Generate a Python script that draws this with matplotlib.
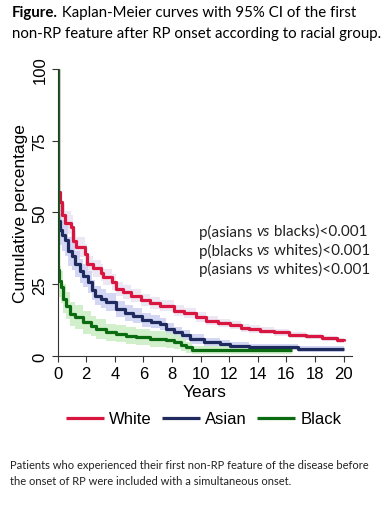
import matplotlib
matplotlib.use('Agg')
import matplotlib.pyplot as plt

# step-function Kaplan-Meier estimates (percent)
white_t = [0, 0.02, 0.15, 0.3, 0.5, 0.9, 1.1, 1.25, 1.9, 2.05, 2.5, 3.0, 3.2, 3.8, 4.1, 4.6, 5.1, 5.8,
           6.45, 7.15, 8.1, 8.8, 9.7, 10.4, 11.2, 12.05, 12.8, 13.4, 14.15, 15.1, 16.2, 17.4, 18.5, 19.5, 20]
white_y = [100, 57, 53.5, 49, 46.5, 45, 40, 38, 35.5, 32, 30.5, 29, 27.4, 25.7, 23.3, 22.3, 21, 19.5,
           18.5, 17.5, 15.8, 15, 13.5, 12.3, 11.5, 10.8, 9.8, 9.4, 8.8, 8.2, 7.4, 6.8, 6.1, 5.5, 5.3]
white_lo = [100, 52, 49, 45, 42.5, 41, 36.5, 34.5, 32, 29, 27.5, 26, 24.6, 23, 20.8, 19.9, 18.7, 17.3,
            16.4, 15.5, 13.9, 13.2, 11.8, 10.7, 10, 9.4, 8.5, 8.1, 7.6, 7, 6.3, 5.8, 5.1, 4.6, 4.4]
white_hi = [100, 60, 57, 53, 50.5, 49, 43.5, 41.5, 39, 35, 33.5, 32, 30.2, 28.4, 25.8, 24.7, 23.3, 21.7,
            20.6, 19.5, 17.7, 16.8, 15.2, 13.9, 13, 12.2, 11.1, 10.7, 10, 9.4, 8.5, 7.8, 7.1, 6.4, 6.2]

asian_t = [0, 0.02, 0.15, 0.3, 0.5, 0.7, 1.0, 1.2, 1.55, 1.8, 2.15, 2.4, 2.6, 3.0, 3.4, 4.1, 4.7, 5.3,
           5.9, 6.5, 7.15, 7.6, 8.1, 8.7, 9.25, 10.2, 11.35, 12.05, 13.4, 16.8, 20]
asian_y = [100, 47, 44, 42, 40.5, 36.5, 35, 32, 29.5, 28, 25.7, 23, 21, 20, 18.7, 16.4, 15, 14,
           12.5, 12, 11.1, 9.4, 8.2, 7.2, 5.9, 4.8, 4.2, 3.6, 3.1, 2.4, 2.4]
asian_lo = [100, 41, 38.5, 36.5, 35, 31.5, 30, 27.5, 25.3, 24, 21.8, 19.4, 17.6, 16.7, 15.5, 13.5, 12.3, 11.4,
            10.1, 9.7, 8.9, 7.4, 6.3, 5.5, 4.3, 3.4, 2.9, 2.4, 2, 1.4, 1.4]
asian_hi = [100, 53, 49.5, 47.5, 46, 41.5, 40, 36.5, 33.7, 32, 29.6, 26.6, 24.4, 23.3, 21.9, 19.3, 17.7, 16.6,
            14.9, 14.3, 13.3, 11.4, 10.1, 8.9, 7.5, 6.2, 5.5, 4.8, 4.2, 3.4, 3.4]

black_t = [0, 0.02, 0.1, 0.2, 0.4, 0.6, 0.85, 1.2, 1.8, 2.3, 2.7, 3.4, 4.1, 4.8, 5.5, 6.45, 7.6, 8.1,
           8.6, 9.0, 9.4, 16.4]
black_y = [100, 30, 26, 24, 20, 17.5, 14.6, 13.5, 11.7, 10.5, 9.4, 8.2, 7.7, 7.1, 6.5, 5.9, 5.5, 4.8,
           4.0, 3.0, 2.1, 2.1]
black_lo = [100, 24, 20.5, 18.5, 15, 12.8, 10.3, 9.3, 7.8, 6.9, 6, 5.1, 4.7, 4.2, 3.7, 3.2, 2.9, 2.4,
            1.8, 1.2, 0.6, 0.6]
black_hi = [100, 36, 31.5, 29.5, 25, 22.2, 18.9, 17.7, 15.6, 14.1, 12.8, 11.3, 10.7, 10, 9.3, 8.6, 8.1, 7.2,
            6.2, 4.8, 3.6, 3.6]

groups = ['White', 'Asian', 'Black']
line_colors = ['#d8163f', '#1f2b5e', '#0b6b10']
band_colors = ['#ece4f2', '#cfd3f2', '#cdeec6']

x_ticks = [0, 2, 4, 6, 8, 10, 12, 14, 16, 18, 20]
y_ticks = [0, 25, 50, 75, 100]

p_lines = [('asians', 'blacks'), ('blacks', 'whites'), ('asians', 'whites')]

fig = plt.figure(figsize=(3.88, 5.06), dpi=100)
ax = fig.add_axes([0.1487, 0.2945, 0.7577, 0.5672])

curves = [
    (white_t, white_y, white_lo, white_hi),
    (asian_t, asian_y, asian_lo, asian_hi),
    (black_t, black_y, black_lo, black_hi),
]

for (t, y, lo, hi), bc in zip(curves, band_colors):
    ax.fill_between(t, lo, hi, step='post', color=bc, lw=0, alpha=0.9)

for (t, y, lo, hi), lc, g in zip(curves, line_colors, groups):
    ax.step(t, y, where='post', color=lc, lw=2.3, label=g, solid_capstyle='butt')

ax.set_xlim(0, 20.56)
ax.set_ylim(0, 100)
ax.set_xticks(x_ticks)
ax.set_yticks(y_ticks)
for s in ['top', 'right']:
    ax.spines[s].set_visible(False)
for s in ['left', 'bottom']:
    ax.spines[s].set_linewidth(0.8)
    ax.spines[s].set_color('#333333')
ax.tick_params(direction='out', length=4, width=0.8, colors='#333333', labelcolor='black',
               labelsize=12)
for lab in ax.get_xticklabels():
    lab.set_fontfamily('Liberation Sans')
for lab in ax.get_yticklabels():
    lab.set_fontfamily('Liberation Sans')
    lab.set_rotation(90)
    lab.set_va('center')
ax.set_xlabel('Years', fontsize=12.5, family='Liberation Sans', labelpad=2)
ax.set_ylabel('Cumulative percentage', fontsize=12.5, family='Liberation Sans', labelpad=3)

# p-values
for i, (a, b) in enumerate(p_lines):
    ty = 0.5415 - i * 0.0375
    t1 = fig.text(0.513, ty, 'p(' + a + ' ', fontsize=11, family='Lato', color='#222222', va='center')
    a2 = ax.annotate('vs', xy=(1, 0.5), xycoords=t1, va='center', fontsize=11, family='Lato',
                     style='italic', color='#222222', annotation_clip=False)
    ax.annotate(' ' + b + ')<0.001', xy=(1, 0.5), xycoords=a2, va='center', fontsize=11,
                family='Lato', color='#222222', annotation_clip=False)

# legend
leg = fig.legend(loc='center', bbox_to_anchor=(0.525, 0.17), ncol=3, frameon=False,
                 prop={'family': 'Liberation Sans', 'size': 12}, handlelength=2.3,
                 handletextpad=0.3, columnspacing=0.6)

# title
t0 = fig.text(0.031, 0.975, 'Figure.', fontsize=10.8, family='Lato', weight='bold', va='center')
ax.annotate(' Kaplan-Meier curves with 95% CI of the first', xy=(1, 0.5), xycoords=t0,
            va='center', fontsize=10.8, family='Lato', annotation_clip=False)
fig.text(0.031, 0.932, 'non-RP feature after RP onset according to racial group.', fontsize=10.8,
         family='Lato', va='center')

# footnote
fig.text(0.026, 0.081, 'Patients who experienced their first non-RP feature of the disease before',
         fontsize=8.0, family='Lato', color='#222222', va='center')
fig.text(0.026, 0.048, 'the onset of RP were included with a simultaneous onset.',
         fontsize=8.0, family='Lato', color='#222222', va='center')

fig.savefig('out.png', dpi=100)
